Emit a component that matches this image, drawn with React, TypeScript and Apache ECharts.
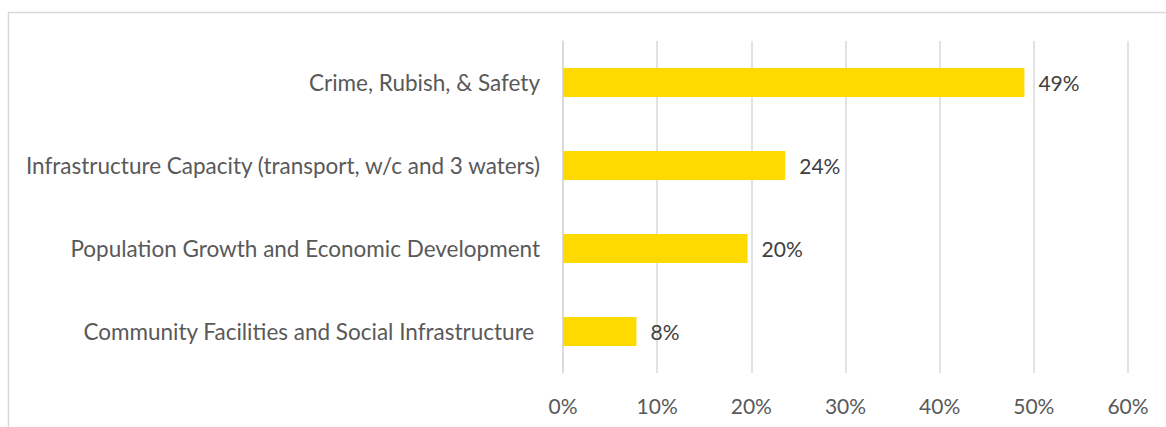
import React, { useEffect, useRef } from "react";
import * as echarts from "echarts";

const categories = [
  "Crime, Rubish, & Safety",
  "Infrastructure Capacity (transport, w/c and 3 waters)",
  "Population Growth and Economic Development",
  "Community Facilities and Social Infrastructure ",
];
const values = [49, 23.6, 19.6, 7.8];
const tickMax = 60;
const tickStep = 10;

export default function App() {
  const ref = useRef<HTMLDivElement>(null);
  useEffect(() => {
    if (!ref.current) return;
    const chart = echarts.init(ref.current, null, { renderer: "svg" });
    const font = "Lato, 'Open Sans', sans-serif";
    chart.setOption({
      animation: false,
      backgroundColor: "#ffffff",
      graphic: [
        {
          type: "rect",
          silent: true,
          shape: { x: 8.5, y: 12.5, width: 1300, height: 600 },
          style: { fill: "none", stroke: "#d9d9d9", lineWidth: 1.5 },
        },
      ],
      grid: { left: 563, right: 38, top: 41, bottom: 54, containLabel: false },
      xAxis: {
        type: "value",
        min: 0,
        max: tickMax,
        interval: tickStep,
        axisLine: { show: false },
        axisTick: { show: false },
        splitLine: { show: true, lineStyle: { color: "#d9d9d9", width: 1.5 } },
        axisLabel: {
          formatter: "{value}%",
          color: "#595959",
          fontFamily: font,
          fontSize: 21,
          margin: 22,
        },
      },
      yAxis: {
        type: "category",
        inverse: true,
        data: categories,
        axisLine: { show: true, lineStyle: { color: "#d9d9d9", width: 1.5 } },
        axisTick: { show: false },
        axisLabel: {
          color: "#595959",
          fontFamily: font,
          fontSize: 22.5,
          margin: 23,
        },
      },
      series: [
        {
          type: "bar",
          data: values,
          barWidth: 29,
          itemStyle: { color: "#FFDA00" },
          label: {
            show: true,
            position: "right",
            distance: 14,
            color: "#404040",
            fontFamily: font,
            fontSize: 21,
            formatter: (p: any) => Math.round(p.value) + "%",
          },
        },
      ],
    });
    return () => chart.dispose();
  }, []);
  return (
    <div
      ref={ref}
      style={{ position: "absolute", left: 0, top: 0, width: 1166, height: 427 }}
    />
  );
}
